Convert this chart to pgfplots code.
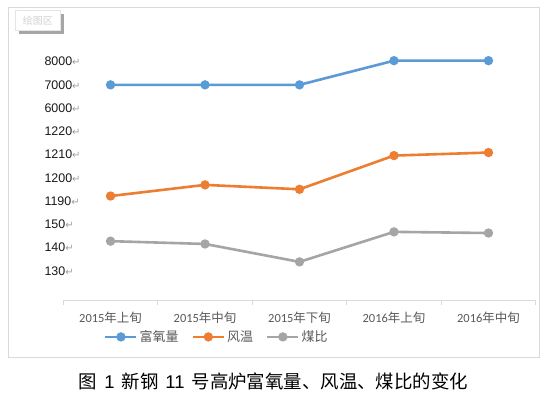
\documentclass[border=0pt]{standalone}
\usepackage{pgfplots}
\pgfplotsset{compat=1.18}
\usepackage{fontspec}
\setmainfont{Liberation Sans}
\newfontfamily\cjk{Noto Sans CJK SC}
\newfontfamily\carl{Carlito}
\newfontfamily\dv{DejaVu Sans}
\definecolor{cblue}{HTML}{5B9BD5}
\definecolor{corange}{HTML}{ED7D31}
\definecolor{cgray}{HTML}{A5A5A5}
\definecolor{axisgray}{HTML}{D9D9D9}
\definecolor{txtgray}{HTML}{595959}
\newcommand{\ret}{{\dv\fontsize{10}{10}\selectfont\textcolor{gray!75}{↵}}}
\newcommand{\xl}[2]{{\carl\fontsize{12.5}{12.5}\selectfont #1}{\cjk\fontsize{12.5}{12.5}\selectfont #2}}
\begin{document}
\begin{tikzpicture}[x=1bp,y=1bp]
\useasboundingbox (0,0) rectangle (548,-398);
\fill[white] (0,0) rectangle (548,-398);
\draw[axisgray, line width=0.75bp] (8,-7) rectangle (539,-357);
% tooltip box
\fill[gray!70] (19,-14) rectangle (63.5,-33.5);
\filldraw[fill=white, draw=gray!20, line width=0.5bp] (15,-10) rectangle (60.5,-30.5);
\node[text=gray!35, font=\cjk\fontsize{10}{10}\selectfont, inner sep=0] at (37.8,-20.3) {绘图区};
\begin{axis}[
  at={(63.3bp,-300bp)}, anchor=south west,
  scale only axis, width=472.4bp, height=273.3bp,
  xmin=-0.5, xmax=4.5, ymin=-1.25, ymax=10.5,
  clip=false,
  axis x line=bottom, axis y line=left,
  x axis line style={-, draw=axisgray, line width=0.75bp},
  y axis line style={draw=none},
  xtick={0,...,4},
  xticklabels={\xl{2015}{年上旬},\xl{2015}{年中旬},\xl{2015}{年下旬},\xl{2016}{年上旬},\xl{2016}{年中旬}},
  minor xtick={-0.5,0.5,1.5,2.5,3.5,4.5},
  tick align=outside,
  major tick length=0pt,
  minor tick length=5bp,
  xtick style={draw=none},
  minor x tick style={draw=axisgray, line width=0.75bp},
  xticklabel style={text=txtgray, anchor=center, yshift=-17.5bp, inner sep=0pt},
  ytick={0,...,9},
  yticklabels={130\ret,140\ret,150\ret,1190\ret,1200\ret,1210\ret,1220\ret,6000\ret,7000\ret,8000\ret},
  ytick style={draw=none},
  yticklabel style={anchor=west, xshift=-19bp, inner sep=0pt, font=\fontsize{12.5}{12.5}\selectfont, text=black!90},
  legend columns=3,
  legend style={draw=none, fill=none, at={(0.325,-0.135)}, anchor=center,
    font=\cjk\fontsize{13}{13}\selectfont, text=txtgray,
    /tikz/every even column/.style={column sep=11bp}},
  legend image code/.code={\draw[mark repeat=2, mark phase=2] plot coordinates {(0bp,0bp) (15.5bp,0bp) (31bp,0bp)};},
]
\addplot[cblue, line width=2.6bp, mark=*, mark size=3.3bp, mark options={solid}] coordinates {(0,8.00) (1,8.00) (2,8.00) (3,9.04) (4,9.04)};
\addlegendentry{富氧量}
\addplot[corange, line width=2.6bp, mark=*, mark size=3.3bp, mark options={solid}] coordinates {(0,3.22) (1,3.70) (2,3.51) (3,4.96) (4,5.09)};
\addlegendentry{风温}
\addplot[cgray, line width=2.6bp, mark=*, mark size=3.3bp, mark options={solid}] coordinates {(0,1.28) (1,1.16) (2,0.39) (3,1.68) (4,1.63)};
\addlegendentry{煤比}
\end{axis}
\node[font=\cjk\fontsize{18.5}{18.5}\selectfont, text=black, inner sep=0] at (273.5,-381) {图\hspace{0.38em}{\rmfamily 1}\hspace{0.38em}新钢\hspace{0.38em}{\rmfamily 11}\hspace{0.38em}号高炉富氧量、风温、煤比的变化};
\end{tikzpicture}
\end{document}
